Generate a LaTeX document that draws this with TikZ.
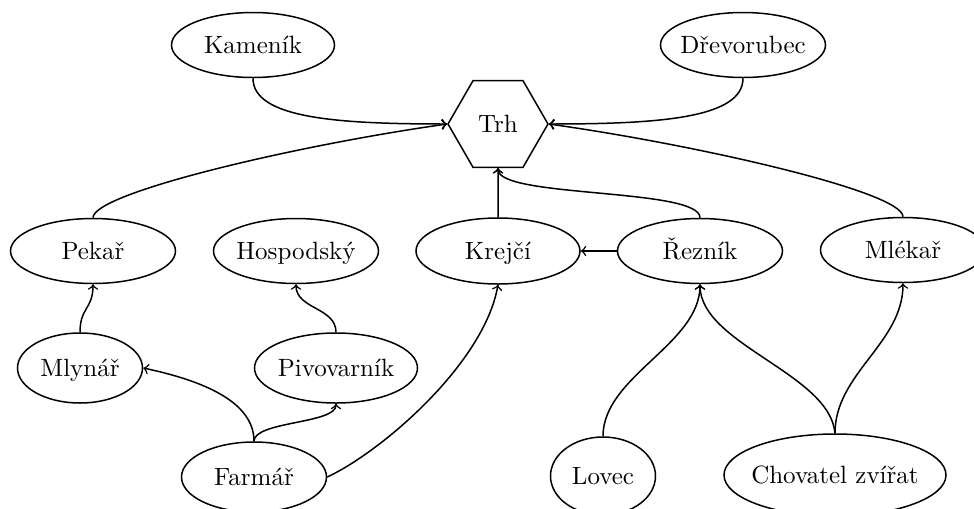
\documentclass[tikz,border=0pt]{standalone}
\usetikzlibrary{shapes.geometric}
\begin{document}
\begin{tikzpicture}[x=0.4pt,y=-0.4pt,
  el/.style={draw,ellipse,line width=0.6pt,inner sep=0pt,text height=7pt,text depth=0pt},
  hex/.style={draw,regular polygon,regular polygon sides=6,minimum size=40pt,inner sep=0pt,line width=0.6pt,text height=7pt,text depth=0pt},
  arr/.style={->,line width=0.6pt}]
\useasboundingbox (0,0) rectangle (974,508);
% nodes
\node[hex] (trh) at (498,124) {Trh};
\node[el,minimum width=65.2pt,minimum height=26pt] (kam) at (253,45) {\makebox[0pt]{Kameník}};
\node[el,minimum width=66pt,minimum height=26pt] (dre) at (743,45) {\makebox[0pt]{Dřevorubec}};
\node[el,minimum width=66pt,minimum height=26pt] (pek) at (93,251) {\makebox[0pt]{Pekař}};
\node[el,minimum width=66pt,minimum height=26pt] (hos) at (296,251) {\makebox[0pt]{Hospodský}};
\node[el,minimum width=65.6pt,minimum height=26.4pt] (kre) at (498,251) {\makebox[0pt]{Krejčí}};
\node[el,minimum width=66pt,minimum height=26pt] (rez) at (700,251) {\makebox[0pt]{Řezník}};
\node[el,minimum width=66pt,minimum height=26pt] (mle) at (903,250) {\makebox[0pt]{Mlékař}};
\node[el,minimum width=50pt,minimum height=28pt] (mly) at (80,368) {\makebox[0pt]{Mlynář}};
\node[el,minimum width=65.2pt,minimum height=28pt] (piv) at (336,368) {\makebox[0pt]{Pivovarník}};
\node[el,minimum width=58pt,minimum height=28pt] (far) at (254,477) {\makebox[0pt]{Farmář}};
\node[el,minimum width=42pt,minimum height=31.2pt] (lov) at (603,476) {\makebox[0pt]{Lovec}};
\node[el,minimum width=88.8pt,minimum height=32.8pt] (cho) at (835,475) {\makebox[0pt]{Chovatel zvířat}};
% connectors
\draw[arr] (kam.south) to[out=-90,in=180,out distance=16pt,in distance=44pt] (trh.west);
\draw[arr] (dre.south) to[out=-90,in=0,out distance=16pt,in distance=44pt] (trh.east);
\draw[arr] (pek.north) to[out=90,in=188,out distance=10pt,in distance=60pt] (trh.west);
\draw[arr] (mle.north) to[out=90,in=-8,out distance=10pt,in distance=60pt] (trh.east);
\draw[arr] (kre.north) -- (trh.south);
\draw[arr] (rez.north) to[out=90,in=-90,out distance=12pt,in distance=12pt] (trh.south);
\draw[arr] (rez.west) -- (kre.east);
\draw[arr] (mly.north) to[out=90,in=-90,out distance=10pt,in distance=10pt] (pek.south);
\draw[arr] (piv.north) to[out=90,in=-90,out distance=10pt,in distance=10pt] (hos.south);
\draw[arr] (far.north) to[out=90,in=-12,out distance=16pt,in distance=24pt] (mly.east);
\draw[arr] (far.north) to[out=90,in=-90,out distance=8pt,in distance=8pt] (piv.south);
\draw[arr] (far.east) to[out=25,in=-100,out distance=24pt,in distance=32pt] (kre.south);
\draw[arr] (lov.north) to[out=90,in=-90,out distance=24pt,in distance=24pt] (rez.south);
\draw[arr] (cho.north) to[out=95,in=-90,out distance=24pt,in distance=24pt] (rez.south);
\draw[arr] (cho.north) to[out=90,in=-90,out distance=24pt,in distance=24pt] (mle.south);
\end{tikzpicture}
\end{document}
